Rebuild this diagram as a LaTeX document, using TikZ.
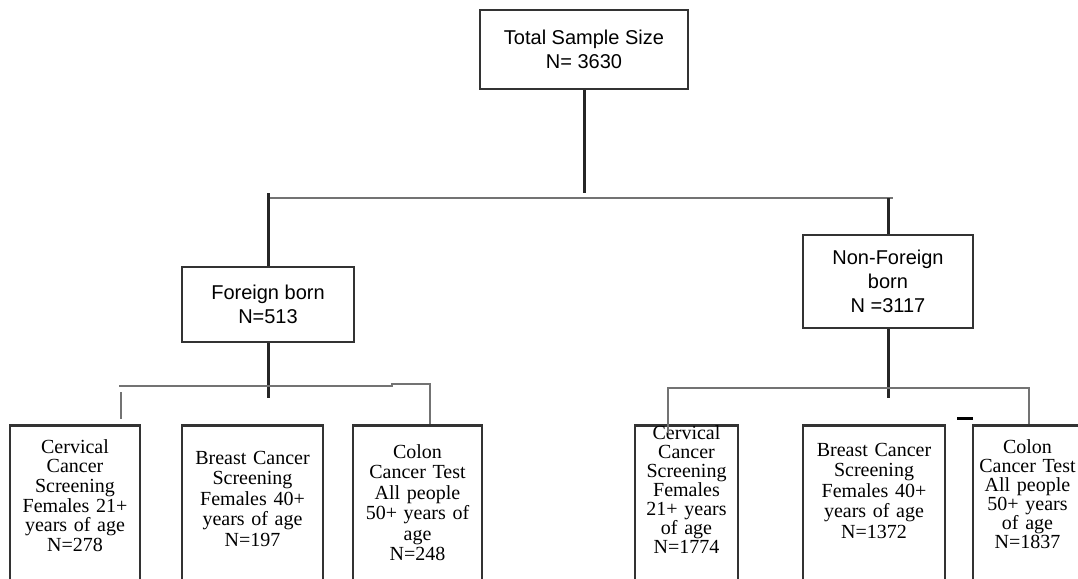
\documentclass[tikz,border=0pt]{standalone}
\usepackage{fontspec}
\setmainfont{Liberation Serif}
\newfontfamily\boxsans{Liberation Sans}
\usepackage{tikz}

\begin{document}
\begin{tikzpicture}[x=1pt,y=-1pt,
        topbox/.style={draw=black!80,line width=2.5pt,align=center,inner sep=0pt,
            font=\boxsans\fontsize{20}{24}\selectfont},
        testbox/.style={draw=black!80,line width=2.5pt,anchor=north,align=center,
            inner xsep=2pt,inner ysep=0pt,text depth=170pt,
            font=\fontsize{20}{19.6}\selectfont},
        widerows/.style={font=\fontsize{20}{20.5}\selectfont},
        tightrows/.style={font=\fontsize{20}{19}\selectfont},
        trunk/.style={black!85,line width=3pt},
        branch/.style={black!55,line width=2pt}]
        \clip (0,0) rectangle (1078,578);

        % Draw the upper boxes
        \node[topbox,minimum width=208pt,minimum height=79pt] (total) at (584,49.5)
            {Total Sample Size\\N= 3630};
        \node[topbox,minimum width=172pt,minimum height=75pt] (foreign) at (268,304.5)
            {Foreign born\\N=513};
        \node[topbox,minimum width=170pt,minimum height=93pt] (nonforeign) at (888,281.5)
            {Non-Foreign\\born\\N =3117};

        % Draw the screening boxes
        \node[testbox,text width=126pt,text height=28pt] (cervA) at (75,424)
            {Cervical\\Cancer\\Screening\\Females 21+\\years of age\\N=278};
        \node[testbox,widerows,text width=137pt,text height=39pt] (breastA) at (252.5,424)
            {Breast Cancer\\Screening\\Females 40+\\years of age\\N=197};
        \node[testbox,widerows,text width=125pt,text height=33pt] (colonA) at (417.5,424)
            {Colon\\Cancer Test\\All people\\50+ years of\\age\\N=248};
        \node[testbox,tightrows,text width=99pt,text height=14pt] (cervB) at (686.5,424)
            {Cervical\\Cancer\\Screening\\Females\\21+ years\\of age\\N=1774};
        \node[testbox,widerows,text width=138pt,text height=31pt] (breastB) at (874,424)
            {Breast Cancer\\Screening\\Females 40+\\years of age\\N=1372};
        \node[testbox,tightrows,text width=105pt,text height=28pt] (colonB) at (1027.5,424)
            {Colon\\Cancer Test\\All people\\50+ years\\of age\\N=1837};

        % Draw the first split
        \coordinate (trunkend) at (584,193);
        \coordinate (barL) at (268,198);
        \coordinate (barR) at (893,198);
        \coordinate (fbtop) at (268,193);
        \coordinate (nftop) at (888,198);
        \draw[trunk] (total) -- (trunkend);
        \draw[branch] (barL) -- (barR);
        \draw[trunk] (fbtop) -- (foreign);
        \draw[trunk] (nftop) -- (nonforeign);

        % Draw the foreign born split
        \coordinate (fbend) at (268,398);
        \coordinate (fbarL) at (119,386);
        \coordinate (fbarM) at (392,386);
        \coordinate (fbarR) at (430,384);
        \coordinate (ftick) at (121,392);
        \draw[trunk] (foreign) -- (fbend);
        \draw[branch] (fbarL) -- (fbarM) |- (fbarR) -- (fbarR |- colonA.north);
        \draw[branch,shorten >=5pt] (ftick) -- (ftick |- cervA.north);

        % Draw the non-foreign born split
        \coordinate (nfend) at (888,398);
        \coordinate (nbarL) at (668,388);
        \coordinate (nbarR) at (1029,388);
        \coordinate (nbarLend) at (668,433);
        \coordinate (dashA) at (957,418);
        \coordinate (dashB) at (973,418);
        \draw[trunk] (nonforeign) -- (nfend);
        \draw[branch] (nbarLend) -- (nbarL) -- (nbarR) -- (nbarR |- colonB.north);
        \draw[trunk,black] (dashA) -- (dashB);
    \end{tikzpicture}
\end{document}
